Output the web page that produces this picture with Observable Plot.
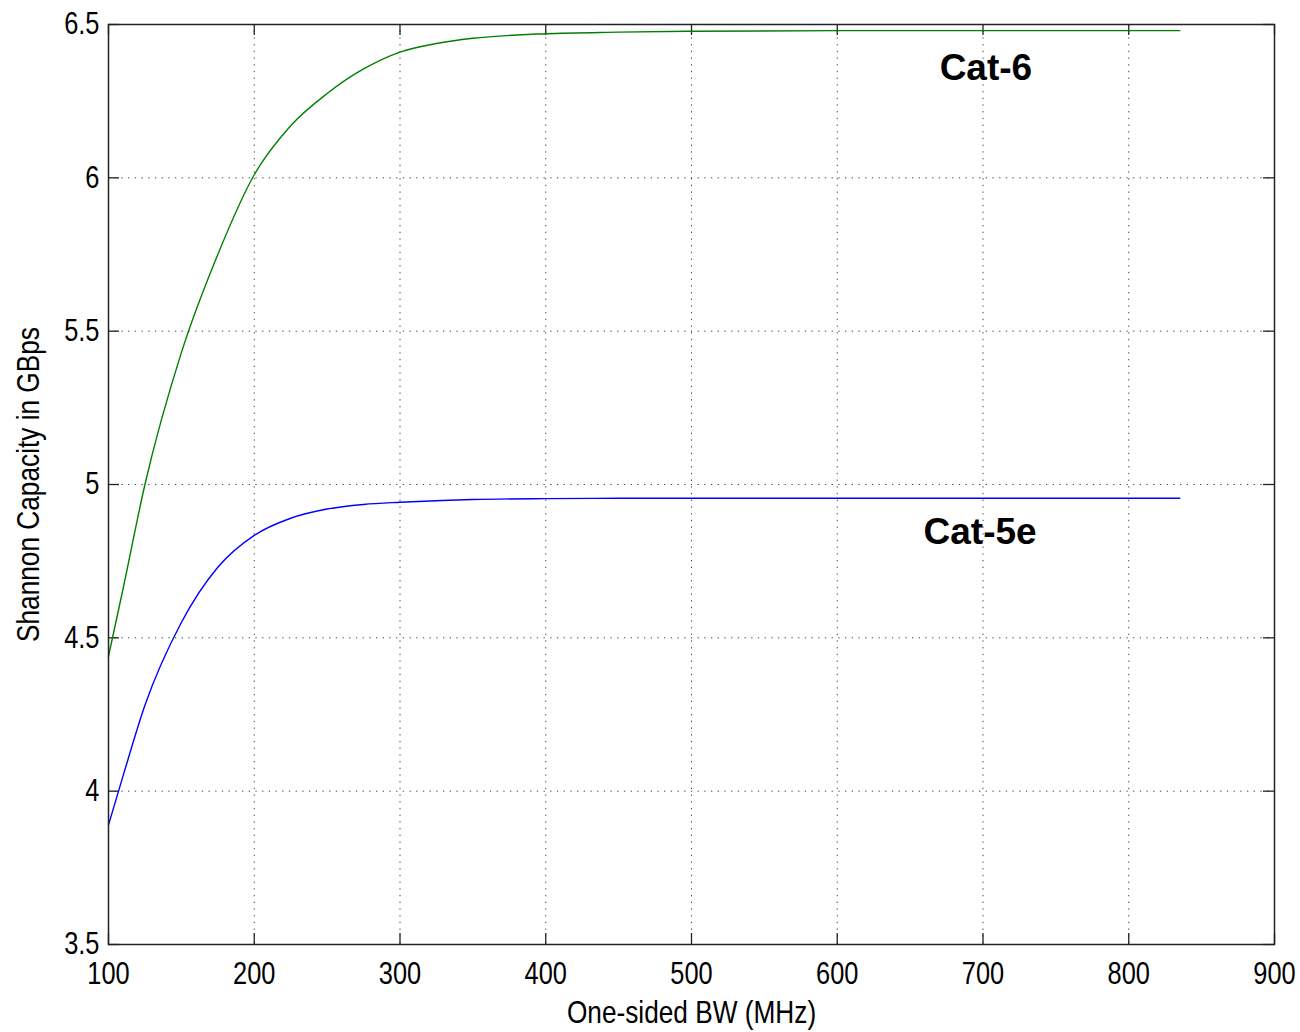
<!DOCTYPE html>
<html>
<head>
<meta charset="utf-8">
<script src="https://cdn.jsdelivr.net/npm/d3@7"></script>
<script src="https://cdn.jsdelivr.net/npm/@observablehq/plot@0.6"></script>
<style>
  html, body { margin: 0; padding: 0; background: #fff; }
  #chart svg { display: block; }
</style>
</head>
<body>
<div id="chart"></div>
<script>
// Data
const bw = [100, 110, 125, 150, 175, 200, 225, 250, 275, 300, 325, 350, 400, 450, 500, 600, 700, 835];
const cat6 = [4.44, 4.66, 5.00, 5.43, 5.75, 6.01, 6.17, 6.275, 6.355, 6.41, 6.438, 6.455, 6.47, 6.475, 6.478, 6.48, 6.48, 6.48];
const cat5e = [3.89, 4.05, 4.28, 4.55, 4.73, 4.834, 4.89, 4.92, 4.935, 4.942, 4.947, 4.951, 4.954, 4.955, 4.955, 4.955, 4.955, 4.955];
const xTicks = [100, 200, 300, 400, 500, 600, 700, 800, 900];
const yTicks = [3.5, 4, 4.5, 5, 5.5, 6, 6.5];
const seriesNames = ["Cat-6", "Cat-5e"];
const seriesColors = ["#008000", "#0000ff"];
const labelX = [702, 698];
const labelY = [6.357, 4.843];
const xLabel = "One-sided BW (MHz)";
const yLabel = "Shannon Capacity in GBps";

const W = 1300, H = 1032;
const mL = 108, mR = 26, mT = 24, mB = 88;
const innerW = W - mL - mR, innerH = H - mT - mB;
const tickLen = 11;
const narrow = 0.82;

const rows = [];
bw.forEach((x, i) => {
  rows.push({series: seriesNames[0], x, y: cat6[i]});
  rows.push({series: seriesNames[1], x, y: cat5e[i]});
});
const labels = seriesNames.map((s, i) => ({text: s, x: labelX[i], y: labelY[i]}));

const chart = Plot.plot({
  width: W,
  height: H,
  marginLeft: mL,
  marginRight: mR,
  marginTop: mT,
  marginBottom: mB,
  style: {fontFamily: "'Liberation Sans', Arial, sans-serif", fontSize: "31px", color: "#000", background: "#fff"},
  x: {domain: [100, 900], ticks: xTicks},
  y: {domain: [3.5, 6.5], ticks: yTicks},
  color: {domain: seriesNames, range: seriesColors},
  marks: [
    Plot.gridX(xTicks, {stroke: "#000", strokeOpacity: 0.75, strokeDasharray: "1.3,5.4"}),
    Plot.gridY(yTicks, {stroke: "#000", strokeOpacity: 0.75, strokeDasharray: "1.3,5.4"}),
    // inward ticks on all four sides
    Plot.ruleX(xTicks, {x: d => d, insetTop: innerH - tickLen, stroke: "#222", strokeWidth: 1.3}),
    Plot.ruleX(xTicks, {x: d => d, insetBottom: innerH - tickLen, stroke: "#222", strokeWidth: 1.3}),
    Plot.ruleY(yTicks, {y: d => d, insetRight: innerW - tickLen, stroke: "#222", strokeWidth: 1.3}),
    Plot.ruleY(yTicks, {y: d => d, insetLeft: innerW - tickLen, stroke: "#222", strokeWidth: 1.3}),
    Plot.line(rows, {x: "x", y: "y", z: "series", stroke: "series", strokeWidth: 1.4, curve: "monotone-x"}),
    Plot.frame({stroke: "#222", strokeWidth: 1.5}),
    Plot.axisX(xTicks, {tickSize: 0, tickPadding: 17, tickFormat: d => String(d), fontSize: 31, label: null}),
    Plot.axisY(yTicks, {tickSize: 0, tickPadding: 9, tickFormat: d => String(d), fontSize: 31, label: null}),
    Plot.text(labels, {x: "x", y: "y", text: "text", fontWeight: "bold", fontSize: 37, fill: "#000", textAnchor: "middle", lineAnchor: "middle"}),
    Plot.text([xLabel], {frameAnchor: "bottom", dy: 68, text: d => d, fontSize: 32, textAnchor: "middle", lineAnchor: "middle", fill: "#000"}),
    Plot.text([yLabel], {frameAnchor: "left", dx: -80, rotate: -90, text: d => d, fontSize: 32, textAnchor: "middle", lineAnchor: "middle", fill: "#000"})
  ]
});
document.getElementById("chart").appendChild(chart);

// Narrow (condensed) look for the non-bold texts, like the reference's Helvetica Narrow
d3.select(chart).selectAll("text").each(function() {
  if (this.closest('[font-weight="bold"]')) return;
  const t = this.getAttribute("transform");
  if (t) {
    this.setAttribute("transform", t + ` scale(${narrow},1)`);
  } else {
    const x = +(this.getAttribute("x") || 0), y = +(this.getAttribute("y") || 0);
    this.removeAttribute("x"); this.removeAttribute("y");
    this.setAttribute("transform", `translate(${x},${y}) scale(${narrow},1)`);
  }
});
</script>
</body>
</html>
